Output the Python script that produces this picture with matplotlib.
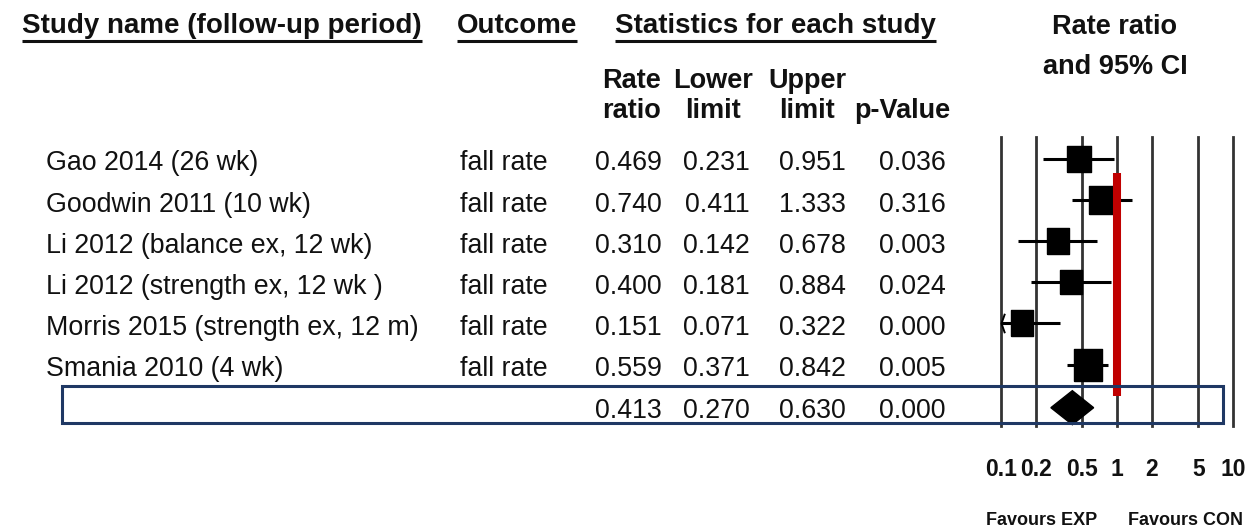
import numpy as np
import matplotlib
matplotlib.use('Agg')
import matplotlib.pyplot as plt
from matplotlib.patches import Rectangle

plt.rcParams['font.family'] = ['Liberation Sans', 'DejaVu Sans']

# Study-level results (rate ratio with 95% CI)
studies = ['Gao 2014 (26 wk)', 'Goodwin 2011 (10 wk)', 'Li 2012 (balance ex, 12 wk)',
           'Li 2012 (strength ex, 12 wk )', 'Morris 2015 (strength ex, 12 m)',
           'Smania 2010 (4 wk)']
outcome = ['fall rate'] * 6
rate_ratio = [0.469, 0.740, 0.310, 0.400, 0.151, 0.559]
lower = [0.231, 0.411, 0.142, 0.181, 0.071, 0.371]
upper = [0.951, 1.333, 0.678, 0.884, 0.322, 0.842]
p_value = [0.036, 0.316, 0.003, 0.024, 0.000, 0.005]

# Pooled estimate
pooled_rr, pooled_lo, pooled_hi, pooled_p = 0.413, 0.270, 0.630, 0.000

axis_ticks = [0.1, 0.2, 0.5, 1, 2, 5, 10]
tick_labels = ['0.1', '0.2', '0.5', '1', '2', '5', '10']

# box heights in pixels (study weight)
box_px = [27, 29, 26, 25, 26, 32]

W, H = 1247, 527
fig = plt.figure(figsize=(W / 100, H / 100), dpi=100)

TXT = '#111111'
row_y = 158.5 + 41.2 * np.arange(7)

# forest panel: log rate ratio across, pixel rows down
x0, x1 = 1000.7, 1233.3
ytop, ybot = 137, 426
fax = fig.add_axes([x0 / W, (H - ybot) / H, (x1 - x0) / W, (ybot - ytop) / H])
fax.set_xscale('log')
fax.set_xlim(0.1, 10)
fax.set_ylim(ybot, ytop)
fax.axis('off')

for t in axis_ticks:
    fax.plot([t, t], [ytop, ybot], color='#333333', lw=2, clip_on=False, zorder=1)

square = [(-0.87, -1), (0.87, -1), (0.87, 1), (-0.87, 1), (-0.87, -1)]
chevron = np.array([(0.35, 1.0), (0.0, 0.0), (0.35, -1.0)])

for i in range(len(studies)):
    y = row_y[i]
    lo = max(lower[i], 0.1)
    fax.plot([lo, upper[i]], [y, y], color='black', lw=2.2, clip_on=False, zorder=2,
             solid_capstyle='butt')
    if lower[i] < 0.1:
        fax.plot(0.1, y, marker=chevron, ms=14, mfc='none', mec='black', mew=1.4,
                 clip_on=False, zorder=2)
    fax.plot(rate_ratio[i], y, marker=square, ms=box_px[i] / 1.389, color='black',
             clip_on=False, zorder=3)

yd = row_y[6] + 2
fax.fill([pooled_lo, pooled_rr, pooled_hi, pooled_rr], [yd, yd - 17, yd, yd + 17],
         color='black', zorder=3, clip_on=False)

# line of no effect
fax.plot([1, 1], [172.7, 396], color='#c00000', lw=5.8, solid_capstyle='butt',
         zorder=4, clip_on=False)

for t, lab in zip(axis_ticks, tick_labels):
    fax.text(t, 476, lab, ha='center', va='baseline', fontsize=16.5, fontweight='bold',
             color=TXT, clip_on=False)

# text layer over the whole figure, pixel coordinates
ov = fig.add_axes([0, 0, 1, 1])
ov.set_xlim(0, W)
ov.set_ylim(H, 0)
ov.axis('off')

heads = []
for x, s in [(22, 'Study name (follow-up period)'), (457, 'Outcome'),
             (615, 'Statistics for each study')]:
    heads.append(ov.text(x, 33, s, ha='left', va='baseline', fontsize=20,
                         fontweight='bold', color=TXT))

col_right = [662, 750, 846, 946]
col_center = [631, 713, 807, 902]
for cx, (a, b) in zip(col_center, [('Rate', 'ratio'), ('Lower', 'limit'),
                                   ('Upper', 'limit'), ('', 'p-Value')]):
    ov.text(cx, 88, a, ha='center', va='baseline', fontsize=19.5, fontweight='bold', color=TXT)
    ov.text(cx, 118, b, ha='center', va='baseline', fontsize=19.5, fontweight='bold', color=TXT)

ov.text(1115, 34, 'Rate ratio', ha='center', va='baseline', fontsize=19.5,
        fontweight='bold', color=TXT)
ov.text(1115, 74, 'and 95% CI', ha='center', va='baseline', fontsize=19.5,
        fontweight='bold', color=TXT)

for i in range(len(studies)):
    b = row_y[i] + 12
    ov.text(46, b, studies[i], ha='left', va='baseline', fontsize=19.3, color=TXT)
    ov.text(460, b, outcome[i], ha='left', va='baseline', fontsize=19.3, color=TXT)
    for xr, v in zip(col_right, [rate_ratio[i], lower[i], upper[i], p_value[i]]):
        ov.text(xr, b, f'{v:.3f}', ha='right', va='baseline', fontsize=19.3, color=TXT)

b = row_y[6] + 12
for xr, v in zip(col_right, [pooled_rr, pooled_lo, pooled_hi, pooled_p]):
    ov.text(xr, b, f'{v:.3f}', ha='right', va='baseline', fontsize=19.3, color=TXT)

ov.add_patch(Rectangle((62, 386), 1160.7, 37, fill=False, ec='#1f3864', lw=2.2, zorder=5))

ov.text(1041.5, 525, 'Favours EXP', ha='center', va='baseline', fontsize=13,
        fontweight='bold', color=TXT)
ov.text(1185, 525, 'Favours CON', ha='center', va='baseline', fontsize=13,
        fontweight='bold', color=TXT)

# underline the section headers
fig.canvas.draw()
inv = ov.transData.inverted()
for t in heads:
    bb = t.get_window_extent()
    (ax0, _), (ax1, _) = inv.transform([(bb.x0, bb.y0), (bb.x1, bb.y0)])
    ov.plot([ax0, ax1], [40.5, 40.5], color=TXT, lw=2.2, solid_capstyle='butt')

fig.savefig('out.png', dpi=100)
